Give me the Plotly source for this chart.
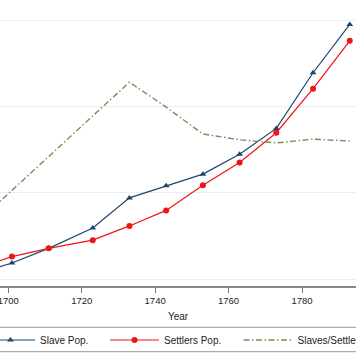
import plotly.graph_objects as go

years = [1691, 1701, 1711, 1723, 1733, 1743, 1753, 1763, 1773, 1783, 1793]
slave_pop = [600, 1850, 3550, 5900, 9400, 10800, 12150, 14450, 17450, 23900, 29500]
settlers_pop = [1150, 2600, 3550, 4500, 6150, 7950, 10850, 13500, 16950, 22050, 27600]
ratio = [0.42, 0.685, 0.95, 1.27, 1.53, 1.335, 1.125, 1.08, 1.055, 1.085, 1.07]
x_ticks = [1700, 1720, 1740, 1760, 1780, 1800]

BLUE = "#1a476f"
RED = "#f01515"
GREEN = "#76905a"
FONT = "Liberation Sans, Arial, sans-serif"

fig = go.Figure()
fig.add_trace(go.Scatter(
    x=years, y=slave_pop, name="Slave Pop.", mode="lines+markers",
    line=dict(color=BLUE, width=1.2),
    marker=dict(symbol="triangle-up", size=6, color=BLUE),
    legend="legend", showlegend=True))
fig.add_trace(go.Scatter(
    x=years, y=settlers_pop, name="Settlers Pop.", mode="lines+markers",
    line=dict(color=RED, width=1.2),
    marker=dict(symbol="circle", size=6, color=RED),
    legend="legend2", showlegend=True))
fig.add_trace(go.Scatter(
    x=years, y=ratio, name="Slaves/Settlers", mode="lines", yaxis="y2",
    line=dict(color=GREEN, width=1.4, dash="6px,2.5px,1.5px,2.5px"),
    legend="legend3", showlegend=True))

H_PLOT = 286.0

def py(p):
    return (H_PLOT - p) / H_PLOT

leg_common = dict(orientation="h", yanchor="middle", xanchor="left",
                  bgcolor="rgba(0,0,0,0)", borderwidth=0,
                  font=dict(family=FONT, size=10, color="#222"),
                  itemwidth=49)

fig.update_layout(
    width=356, height=364, showlegend=True,
    margin=dict(l=0, r=0, t=0, b=364 - H_PLOT, autoexpand=False),
    paper_bgcolor="white", plot_bgcolor="white",
    font=dict(family=FONT, color="#222"),
    xaxis=dict(range=[1697.75, 1794.70], tickvals=x_ticks,
               ticks="outside", ticklen=5, tickwidth=1, tickcolor="#777",
               showline=True, linecolor="#888", linewidth=1.5,
               showgrid=False, zeroline=False, automargin=False,
               ticklabeloverflow="allow",
               tickfont=dict(family=FONT, size=9.5, color="#222"),
               title=dict(text="Year", font=dict(family=FONT, size=10, color="#222"), standoff=8)),
    yaxis=dict(range=[-811, 32329], tickvals=[0, 10000, 20000, 30000],
               showgrid=True, gridcolor="#e9eff1", gridwidth=1, automargin=False,
               showticklabels=False, zeroline=False, showline=False, ticks=""),
    yaxis2=dict(range=[-0.0625, 2.1719], overlaying="y", side="right",
                showgrid=False, showticklabels=False, zeroline=False,
                showline=False, ticks="", automargin=False),
    legend=dict(x=-19 / 356, y=py(340), **leg_common),
    legend2=dict(x=105 / 356, y=py(340), **leg_common),
    legend3=dict(x=238.5 / 356, y=py(340), **leg_common),
    shapes=[
        dict(type="line", xref="paper", yref="paper", x0=-0.1, x1=1.1,
             y0=py(327.3), y1=py(327.3), line=dict(color="#999", width=1)),
        dict(type="line", xref="paper", yref="paper", x0=-0.1, x1=1.1,
             y0=py(351.7), y1=py(351.7), line=dict(color="#999", width=1)),
    ],
)

fig.write_html("out.html", config={"displayModeBar": False},
               post_script="document.body.style.margin='0';document.body.style.overflow='hidden';")
